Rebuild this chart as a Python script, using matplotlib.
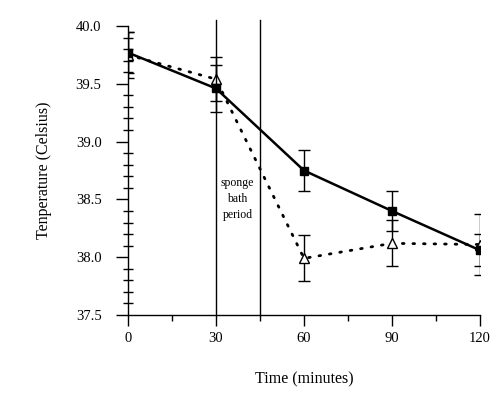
import matplotlib
matplotlib.use("Agg")
import matplotlib.pyplot as plt
from matplotlib.ticker import MultipleLocator, FixedLocator

plt.rcParams['font.family'] = ['Liberation Serif', 'DejaVu Serif']

time_min = [0, 30, 60, 90, 120]
control_temp = [39.77, 39.46, 38.75, 38.40, 38.06]
control_err = [0.18, 0.20, 0.18, 0.17, 0.14]
sponge_temp = [39.75, 39.54, 37.99, 38.12, 38.11]
sponge_err = [0.20, 0.19, 0.20, 0.20, 0.26]
bath_period = [30, 45]
xticks = [0, 30, 60, 90, 120]
yticks = [37.5, 38.0, 38.5, 39.0, 39.5, 40.0]

fig = plt.figure(figsize=(4.99, 3.96), dpi=100)
ax = fig.add_axes([0.2565, 0.2045, 0.7054, 0.7298])

ax.errorbar(time_min, sponge_temp, yerr=sponge_err, color='black', ls=(0, (0.6, 3.2)),
            lw=2.0, dash_capstyle='round', marker='^', ms=7, mfc='white', mec='black',
            mew=1.0, ecolor='black', elinewidth=1.0, capsize=4, capthick=1.0, zorder=3)
ax.errorbar(time_min, control_temp, yerr=control_err, color='black', ls='-', lw=1.8,
            marker='s', ms=6, mfc='black', mec='black', ecolor='black',
            elinewidth=1.0, capsize=4, capthick=1.0, zorder=4)

for xv in bath_period:
    ax.plot([xv, xv], [37.5, 40.05], color='black', lw=1.0, clip_on=False, zorder=2)
ax.text(37.3, 38.5, "sponge\nbath\nperiod", ha='center', va='center', fontsize=8.5,
        linespacing=1.45)

ax.set_xlim(0, 120)
ax.set_ylim(37.5, 40.0)
ax.spines['top'].set_visible(False)
ax.spines['right'].set_visible(False)
ax.spines['left'].set_linewidth(1.0)
ax.spines['bottom'].set_linewidth(1.0)
ax.set_xticks(xticks)
ax.set_xticklabels([str(v) for v in xticks])
ax.xaxis.set_minor_locator(FixedLocator([15, 45, 75, 105]))
ax.set_yticks(yticks)
ax.set_yticklabels([f"{v:.1f}" for v in yticks])
ax.yaxis.set_minor_locator(MultipleLocator(0.1))
ax.tick_params(axis='x', which='major', direction='out', length=8, width=1, labelsize=10.5, pad=4)
ax.tick_params(axis='x', which='minor', direction='out', length=4, width=1)
ax.tick_params(axis='y', which='major', direction='out', length=9, width=1, labelsize=10.5, pad=10)
ax.tick_params(axis='y', which='minor', direction='inout', length=7, width=1)

ax.set_xlabel("Time (minutes)", fontsize=11.5, labelpad=19)
ax.set_ylabel("Tenperature (Celsius)", fontsize=11.5, labelpad=17)

fig.savefig("out.png", dpi=100)
